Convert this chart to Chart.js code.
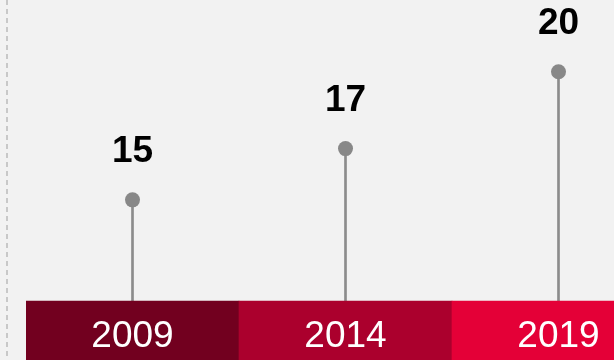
<!DOCTYPE html>
<html>
<head>
    <title>Lollipop years</title>
    <script src="https://cdn.jsdelivr.net/npm/chart.js"></script>
    <style>
        body { margin: 0; background: #f2f2f2; }
        #wrap { width: 614px; height: 360px; overflow: hidden; }
        canvas { display: block; }
    </style>
</head>
<body>
    <div id="wrap">
        <canvas id="chart" width="665" height="360"></canvas>
    </div>

    <script>
        const years = ['2009', '2014', '2019'];
        const values = [15, 17, 20];
        const bandColors = ['#72001f', '#ab002d', '#e40037'];

        const font = '"Liberation Sans", Arial, sans-serif';

        // background, dashed guide on the left, and the text labels
        const decor = {
            id: 'decor',
            beforeDraw(chart) {
                const ctx = chart.ctx;
                ctx.save();
                ctx.fillStyle = '#f2f2f2';
                ctx.fillRect(0, 0, chart.width, chart.height);
                ctx.strokeStyle = '#c8c8c8';
                ctx.lineWidth = 2;
                ctx.setLineDash([5, 4]);
                ctx.beginPath();
                ctx.moveTo(7, 0);
                ctx.lineTo(7, chart.height);
                ctx.stroke();
                ctx.restore();
            },
            afterDatasetsDraw(chart) {
                const ctx = chart.ctx;
                const x = chart.scales.x;
                const yb = chart.scales.yBand;
                const pts = chart.getDatasetMeta(2).data;
                const bandBottom = yb.getPixelForValue(0);
                ctx.save();
                ctx.textAlign = 'center';
                ctx.fillStyle = '#ffffff';
                ctx.font = '37px ' + font;
                years.forEach((yr, i) => {
                    ctx.fillText(yr, x.getPixelForValue(i), bandBottom - 13);
                });
                ctx.fillStyle = '#000000';
                ctx.font = 'bold 37px ' + font;
                values.forEach((v, i) => {
                    ctx.fillText(String(v), pts[i].x, pts[i].y - 38);
                });
                ctx.restore();
            }
        };

        new Chart(document.getElementById('chart').getContext('2d'), {
            data: {
                labels: years,
                datasets: [
                    {
                        type: 'bar',
                        label: 'stem',
                        data: values,
                        yAxisID: 'y',
                        backgroundColor: '#8c8c8c',
                        barThickness: 2,
                        grouped: false,
                        order: 2
                    },
                    {
                        type: 'bar',
                        label: 'band',
                        data: [1, 1, 1],
                        yAxisID: 'yBand',
                        backgroundColor: bandColors,
                        borderWidth: 0,
                        barPercentage: 1,
                        categoryPercentage: 1,
                        grouped: false,
                        order: 1
                    },
                    {
                        type: 'line',
                        label: 'value',
                        data: values,
                        yAxisID: 'y',
                        showLine: false,
                        pointRadius: 7.5,
                        pointBackgroundColor: '#888888',
                        pointBorderWidth: 0,
                        order: 0
                    }
                ]
            },
            options: {
                responsive: false,
                animation: false,
                layout: { autoPadding: false, padding: { left: 26, right: 0, top: 0, bottom: 0 } },
                plugins: { legend: { display: false }, tooltip: { enabled: false } },
                scales: {
                    x: { display: false },
                    y: { display: false, min: 8.75, max: 22.8 },
                    yBand: { display: false, min: 0, max: 6.1 }
                }
            },
            plugins: [decor]
        });
    </script>
</body>
</html>
